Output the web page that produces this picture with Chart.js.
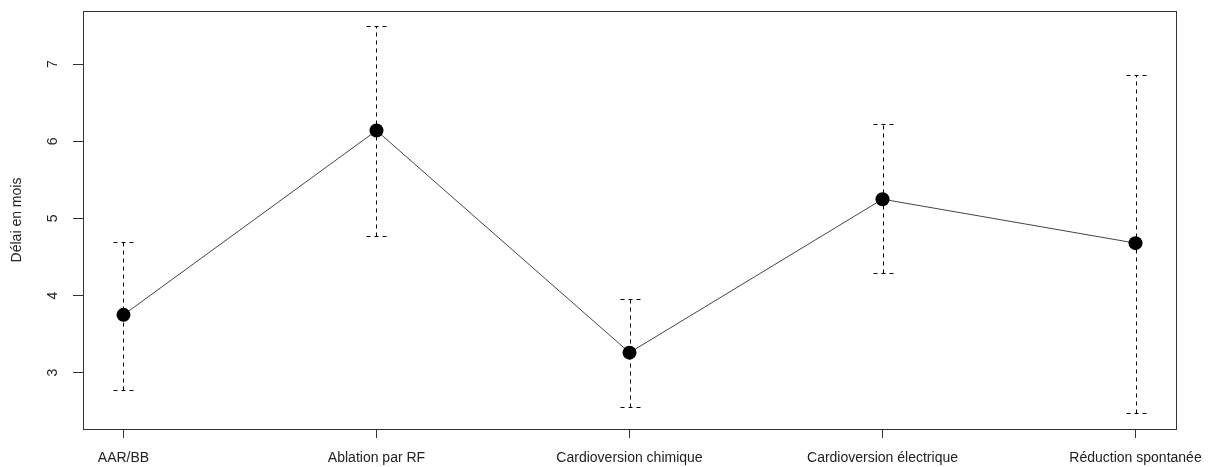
<!DOCTYPE html>
<html>
<head>
<meta charset="utf-8">
<script src="https://cdn.jsdelivr.net/npm/chart.js@4.4.1/dist/chart.umd.min.js"></script>
<style>
  html, body { margin: 0; padding: 0; background: #fff; }
  canvas { display: block; }
</style>
</head>
<body>
<canvas id="delaiChart" width="1218" height="467"></canvas>
<script>
// données
const categories = ['AAR/BB', 'Ablation par RF', 'Cardioversion chimique', 'Cardioversion électrique', 'Réduction spontanée'];
const moyennes = [3.75, 6.14, 3.26, 5.25, 4.68];
const bornesHautes = [4.70, 7.49, 3.95, 6.22, 6.86];
const bornesBasses = [2.78, 4.77, 2.55, 4.29, 2.48];
const yTicks = [3, 4, 5, 6, 7];

const ctx = document.getElementById('delaiChart').getContext('2d');
const police = "'Liberation Sans', Arial, sans-serif";

// barres d'erreur en pointillés
const errorBars = {
  id: 'errorBars',
  beforeDatasetsDraw(chart) {
    const c = chart.ctx;
    const xs = chart.scales.x, ys = chart.scales.y;
    c.save();
    c.strokeStyle = '#000';
    c.lineWidth = 1;
    c.setLineDash([4, 4]);
    categories.forEach((cat, i) => {
      const x = Math.round(xs.getPixelForValue(i + 1)) + 0.5;
      const yh = Math.round(ys.getPixelForValue(bornesHautes[i])) + 0.5;
      const yb = Math.round(ys.getPixelForValue(bornesBasses[i])) + 0.5;
      c.beginPath();
      c.moveTo(x, yb); c.lineTo(x, yh);
      c.moveTo(x - 10, yh); c.lineTo(x + 10, yh);
      c.moveTo(x - 10, yb); c.lineTo(x + 10, yb);
      c.stroke();
    });
    c.restore();
  }
};

// cadre autour de la zone de tracé
const cadre = {
  id: 'cadre',
  afterDraw(chart) {
    const a = chart.chartArea;
    const c = chart.ctx;
    c.save();
    c.strokeStyle = '#333';
    c.lineWidth = 1;
    c.strokeRect(Math.round(a.left) + 0.5, Math.round(a.top) + 0.5, Math.round(a.right - a.left), Math.round(a.bottom - a.top));
    c.restore();
  }
};

new Chart(ctx, {
  type: 'line',
  data: {
    datasets: [{
      data: moyennes.map((v, i) => ({ x: i + 1, y: v })),
      borderColor: '#444',
      borderWidth: 1,
      pointRadius: 7,
      pointBackgroundColor: '#000',
      pointBorderColor: '#000',
      pointBorderWidth: 0,
      tension: 0,
      fill: false
    }]
  },
  options: {
    responsive: false,
    animation: false,
    layout: { padding: { top: 11, right: 42, left: 0, bottom: 0 } },
    plugins: { legend: { display: false }, tooltip: { enabled: false } },
    scales: {
      x: {
        type: 'linear',
        min: 0.84,
        max: 5.16,
        afterBuildTicks: (s) => { s.ticks = categories.map((c, i) => ({ value: i + 1 })); },
        afterFit: (s) => { s.height = 38; s.paddingLeft = 0; s.paddingRight = 0; },
        border: { display: false },
        grid: { drawOnChartArea: false, tickLength: 9, tickColor: '#333' },
        ticks: {
          autoSkip: false,
          maxRotation: 0,
          padding: 12,
          color: '#222',
          font: { family: police, size: 14 },
          callback: (v) => categories[v - 1]
        }
      },
      y: {
        min: 2.27,
        max: 7.69,
        afterBuildTicks: (s) => { s.ticks = yTicks.map(v => ({ value: v })); },
        afterFit: (s) => { s.width = 83; s.paddingTop = 0; s.paddingBottom = 0; },
        border: { display: false },
        grid: { drawOnChartArea: false, tickLength: 10, tickColor: '#333' },
        ticks: {
          minRotation: 90,
          maxRotation: 90,
          crossAlign: 'center',
          padding: 16,
          color: '#222',
          font: { family: police, size: 14 }
        },
        title: {
          display: true,
          text: 'Délai en mois',
          color: '#222',
          font: { family: police, size: 14 },
          padding: { top: 9, bottom: 0 }
        }
      }
    }
  },
  plugins: [errorBars, cadre]
});
</script>
</body>
</html>
